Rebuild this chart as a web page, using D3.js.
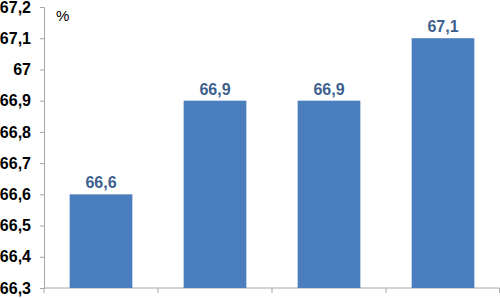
<!DOCTYPE html>
<html>
<head>
<meta charset="utf-8">
<script src="https://cdn.jsdelivr.net/npm/d3@7"></script>
<style>
  body { margin: 0; background: #fff; }
  svg { display: block; }
  .axis path, .axis line { stroke: #a6a6a6; }
</style>
</head>
<body>
<div id="chart"></div>
<script>
const WIDTH = 500
const HEIGHT = 298
const BAR_COLOR = '#4a7ebe'
const LABEL_COLOR = '#3e5f8e'
const AXIS_COLOR = '#a6a6a6'

const categories = ['A', 'B', 'C', 'D']
const values = [66.6, 66.9, 66.9, 67.1]
const yTicks = [66.3, 66.4, 66.5, 66.6, 66.7, 66.8, 66.9, 67.0, 67.1, 67.2]
const unitLabel = '%'

const margin = {top: 7, right: 0, bottom: 10, left: 44}
const fmt = v => String(+v.toFixed(1)).replace('.', ',')

const svg = d3.select('#chart').append('svg')
  .attr('width', WIDTH).attr('height', HEIGHT)

const x = d3.scaleBand().domain(categories)
  .range([margin.left, WIDTH - margin.right])
  .paddingInner(0.45).paddingOuter(0.225)

const y = d3.scaleLinear().domain([66.3, 67.2])
  .range([HEIGHT - margin.bottom, margin.top])

// y axis
const yAxis = d3.axisLeft(y).tickValues(yTicks).tickSize(4).tickPadding(9).tickFormat(fmt)
const yG = svg.append('g').attr('class', 'axis')
  .attr('transform', `translate(${margin.left}, 0)`)
  .call(yAxis)
yG.select('.domain').attr('stroke', AXIS_COLOR)
yG.selectAll('.tick line').attr('stroke', AXIS_COLOR)
yG.selectAll('.tick text')
  .attr('fill', '#000')
  .attr('font-family', 'Liberation Sans, Arial, sans-serif')
  .attr('font-weight', 'bold')
  .attr('font-size', '16px')

// x axis with boundary ticks between categories
const xG = svg.append('g').attr('class', 'axis')
  .attr('transform', `translate(0, ${y(66.3)})`)
xG.append('line')
  .attr('x1', margin.left).attr('x2', WIDTH - margin.right - 0.5)
  .attr('stroke', AXIS_COLOR)
const step = x.step()
const bounds = d3.range(categories.length + 1).map(i => margin.left + i * step)
xG.selectAll('.xtick').data(bounds).enter().append('line')
  .attr('class', 'xtick')
  .attr('x1', d => Math.min(d, WIDTH - 0.5)).attr('x2', d => Math.min(d, WIDTH - 0.5))
  .attr('y1', 0).attr('y2', 5)
  .attr('stroke', AXIS_COLOR)

// bars
svg.selectAll('.bar').data(values).enter().append('rect')
  .attr('class', 'bar')
  .attr('x', (d, i) => x(categories[i]))
  .attr('width', x.bandwidth())
  .attr('y', d => y(d))
  .attr('height', d => y(66.3) - y(d))
  .attr('fill', BAR_COLOR)

// value labels
svg.selectAll('.val').data(values).enter().append('text')
  .attr('class', 'val')
  .attr('x', (d, i) => x(categories[i]) + x.bandwidth() / 2)
  .attr('y', d => y(d) - 6)
  .attr('text-anchor', 'middle')
  .attr('fill', LABEL_COLOR)
  .attr('font-family', 'Liberation Sans, Arial, sans-serif')
  .attr('font-weight', 'bold')
  .attr('font-size', '16px')
  .text(fmt)

// unit
svg.append('text')
  .attr('x', 56).attr('y', 21)
  .attr('font-family', 'Liberation Sans, Arial, sans-serif')
  .attr('font-size', '15px')
  .attr('fill', '#000')
  .text(unitLabel)
</script>
</body>
</html>
